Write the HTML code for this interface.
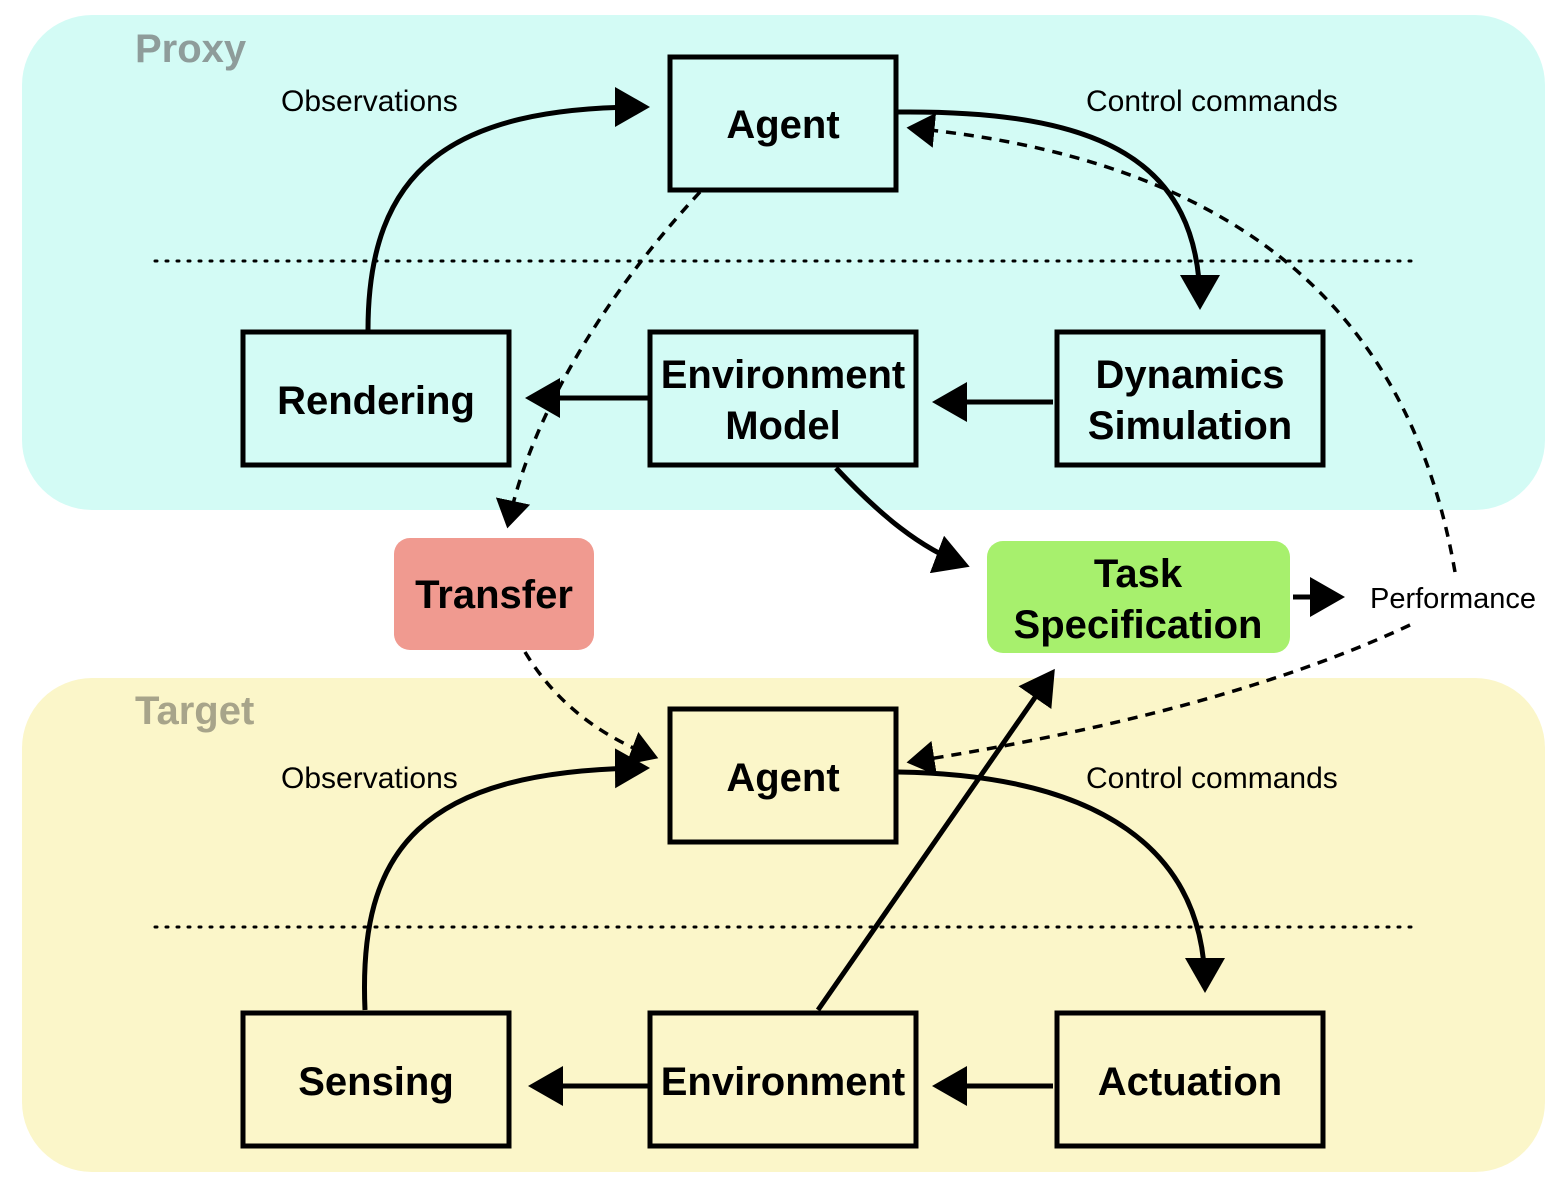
<!DOCTYPE html>
<html><head><style>body{margin:0;background:#fff}svg{display:block}</style></head><body>
<svg width="1558" height="1182" viewBox="0 0 1558 1182" xmlns="http://www.w3.org/2000/svg" font-family="'Liberation Sans', sans-serif">
<defs>
<marker id="a" markerWidth="8" markerHeight="8" refX="6" refY="4" orient="auto" markerUnits="strokeWidth"><path d="M0,0 L7,4 L0,8 Z" fill="#000"/></marker>
<marker id="d" markerWidth="10" markerHeight="10" refX="7" refY="5" orient="auto" markerUnits="strokeWidth"><path d="M0,0 L8,5 L0,10 Z" fill="#000"/></marker>
</defs>
<rect x="22" y="15" width="1523" height="495" rx="70" fill="#d3fbf5"/>
<rect x="22" y="678" width="1523" height="494" rx="70" fill="#fbf6c9"/>
<text x="135" y="62" font-size="40" font-weight="bold" fill="#8e9c9a">Proxy</text>
<text x="135" y="724" font-size="40" font-weight="bold" fill="#a7a48a">Target</text>
<g stroke="#000" stroke-width="3" stroke-dasharray="2,9" stroke-linecap="round">
<line x1="155" y1="261" x2="1420" y2="261"/><line x1="155" y1="927" x2="1420" y2="927"/></g>
<g font-size="30" fill="#000">
<text x="281" y="111">Observations</text><text x="1086" y="111">Control commands</text>
<text x="281" y="788">Observations</text><text x="1086" y="788">Control commands</text>
<text x="1370" y="608" font-size="29">Performance</text></g>
<g fill="none" stroke="#000" stroke-width="5">
<path d="M368,330 C368,170 450,107 645,107" marker-end="url(#a)"/>
<path d="M898,112 C1100,110 1200,160 1200,305" marker-end="url(#a)"/>
<path d="M648,398 L530,398" marker-end="url(#a)"/>
<path d="M1053,402 L937,402" marker-end="url(#a)"/>
<path d="M836,468 C880,515 920,548 965,565" marker-end="url(#a)"/>
<path d="M1293,597 L1340,597" marker-end="url(#a)"/>
<path d="M365,1010 C358,850 420,770 645,768" marker-end="url(#a)"/>
<path d="M898,772 C1100,775 1205,850 1205,988" marker-end="url(#a)"/>
<path d="M818,1010 L1052,673" marker-end="url(#a)"/>
<path d="M648,1086 L533,1086" marker-end="url(#a)"/>
<path d="M1053,1086 L937,1086" marker-end="url(#a)"/>
</g>
<g fill="none" stroke="#000" stroke-width="3.5" stroke-dasharray="10,8">
<path d="M700,192 C600,300 530,420 508,525" marker-end="url(#d)"/>
<path d="M525,652 C560,710 610,740 655,757" marker-end="url(#d)"/>
<path d="M1455,572 C1420,370 1300,165 910,128" marker-end="url(#d)"/>
<path d="M1410,625 C1250,700 1050,740 910,762" marker-end="url(#d)"/>
</g>
<g stroke="#000" stroke-width="5" fill="none">
<rect x="670" y="57" width="226" height="133"/>
<rect x="243" y="332" width="266" height="133"/>
<rect x="650" y="332" width="266" height="133"/>
<rect x="1057" y="332" width="266" height="133"/>
<rect x="670" y="709" width="226" height="133"/>
<rect x="243" y="1013" width="266" height="133"/>
<rect x="650" y="1013" width="266" height="133"/>
<rect x="1057" y="1013" width="266" height="133"/>
</g>
<rect x="394" y="538" width="200" height="112" rx="16" fill="#f09a90"/>
<rect x="987" y="541" width="303" height="112" rx="16" fill="#a7f06d"/>
<g font-size="40" font-weight="bold" text-anchor="middle" fill="#000">
<text x="783" y="138">Agent</text>
<text x="376" y="414">Rendering</text>
<text x="783" y="388">Environment</text><text x="783" y="439">Model</text>
<text x="1190" y="388">Dynamics</text><text x="1190" y="439">Simulation</text>
<text x="494" y="608">Transfer</text>
<text x="1138" y="587">Task</text><text x="1138" y="638">Specification</text>
<text x="783" y="791">Agent</text>
<text x="376" y="1095">Sensing</text>
<text x="783" y="1095">Environment</text>
<text x="1190" y="1095">Actuation</text>
</g>
</svg>
</body></html>
